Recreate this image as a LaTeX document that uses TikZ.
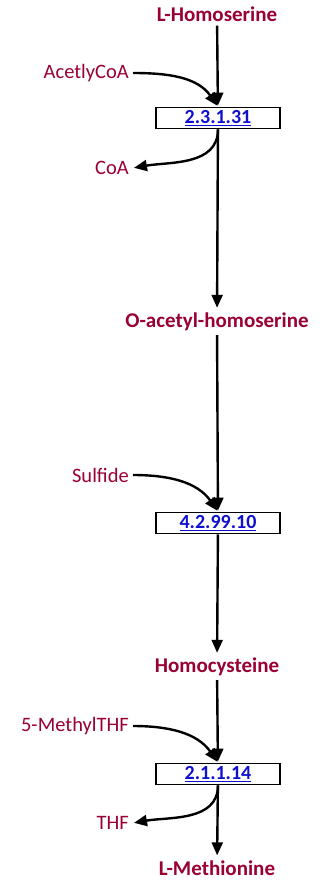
\documentclass[tikz,border=0pt]{standalone}
\usepackage{fontspec}
\setmainfont{Carlito}
\usepackage{tikz}
\usetikzlibrary{arrows.meta}

\definecolor{metred}{HTML}{990033}
\definecolor{ecblue}{HTML}{1010D0}

\tikzset{
	compound/.style={text=metred, font=\bfseries\fontsize{21}{24}\selectfont, inner sep=4pt},
	side/.style={text=metred, font=\fontsize{20.5}{24}\selectfont, inner sep=4pt, anchor=east},
	enzyme/.style={draw, line width=1.8pt, minimum width=124pt, minimum height=21pt, inner sep=0pt,
		text=ecblue, font=\bfseries\fontsize{20}{22}\selectfont},
	flow/.style={->, line width=2.4pt}
}

\newcommand{\ec}[1]{\underline{#1}}

\begin{document}
\begin{tikzpicture}[x=1pt,y=-1pt,>={Triangle[length=13pt,width=11pt]},shorten >=1pt]
	\useasboundingbox (0,0) rectangle (320,880);

	\node[compound] (hser) at (217,14)  {L-Homoserine};
	\node[enzyme]   (ec1)  at (218,118) {\ec{2.3.1.31}};
	\node[side]     (acoa) at (133,73)  {AcetlyCoA};
	\node[side]     (coa)  at (133,168) {CoA};

	\node[compound] (oahs) at (217,322) {O-acetyl-homoserine};
	\node[enzyme]   (ec2)  at (218,523) {\ec{4.2.99.10}};
	\node[side]     (sulf) at (133,475) {Sulfide};

	\node[compound] (hcys) at (217,667) {Homocysteine};
	\node[enzyme]   (ec3)  at (218,774) {\ec{2.1.1.14}};
	\node[side]     (mthf) at (133,726) {5-MethylTHF};
	\node[side]     (thf)  at (133,823) {THF};

	\node[compound] (met)  at (217,868) {L-Methionine};

	\path[flow]	(hser) edge (ec1)
			(acoa.east) edge [out=0, in=125] (ec1.north)
			(ec1.south) edge [out=-90, in=10] (coa.east)
			(ec1) edge (oahs)

			(oahs) edge (ec2)
			(sulf.east) edge [out=0, in=125] (ec2.north)
			(ec2) edge (hcys)

			(hcys) edge (ec3)
			(mthf.east) edge [out=0, in=125] (ec3.north)
			(ec3.south) edge [out=-90, in=10] (thf.east)
			(ec3) edge (met);
\end{tikzpicture}
\end{document}
